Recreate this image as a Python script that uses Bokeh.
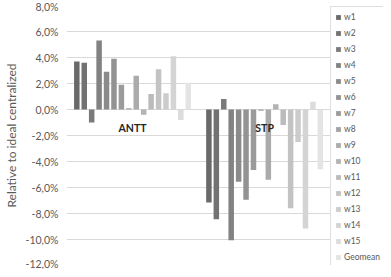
from bokeh.plotting import figure
from bokeh.models import (ColumnDataSource, Range1d, FixedTicker,
                          CustomJSTickFormatter, Legend, LegendItem)
from bokeh.transform import dodge
from bokeh.core.properties import value
from bokeh.embed import file_html
from bokeh.resources import INLINE

categories = ["ANTT", "STP"]
series = ["w1", "w2", "w3", "w4", "w5", "w6", "w7", "w8", "w9", "w10",
          "w11", "w12", "w13", "w14", "w15", "Geomean"]
antt = [3.7, 3.6, -1.0, 5.3, 2.9, 3.9, 1.9, 0.1, 2.6, -0.4, 1.2, 3.1, 1.25, 4.1, -0.8, 2.05]
stp = [-7.15, -8.45, 0.8, -10.05, -5.55, -6.95, -4.65, -0.1, -5.4, 0.4, -1.2, -7.6, -2.5, -9.15, 0.6, -4.6]
y_ticks = [-12, -10, -8, -6, -4, -2, 0, 2, 4, 6, 8]

n = len(series)
greys = []
for i in range(n):
    g = int(round(106 + i * (228 - 106) / (n - 1)))
    greys.append("#%02x%02x%02x" % (g, g, g))

FONT = "Lato"
TXT = "#595959"

cat_x = [i + 0.5 for i in range(len(categories))]

p = figure(width=383, height=269,
           x_range=Range1d(0, 2.4),
           y_range=Range1d(-12, 8),
           output_backend="svg", toolbar_location=None,
           x_axis_location=None,
           min_border_left=58, min_border_top=5, min_border_bottom=4,
           min_border_right=0)
p.outline_line_color = None
p.background_fill_color = "white"
p.border_fill_color = "white"

p.yaxis.ticker = FixedTicker(ticks=y_ticks)
p.yaxis.formatter = CustomJSTickFormatter(code="return tick.toFixed(1).replace('.', ',') + '%';")
p.yaxis.axis_line_color = None
p.yaxis.major_tick_line_color = None
p.yaxis.minor_tick_line_color = None
p.yaxis.major_tick_out = 0
p.yaxis.major_tick_in = 0
p.yaxis.major_label_standoff = 8
p.yaxis.major_label_text_font = FONT
p.yaxis.major_label_text_font_size = "10.5px"
p.yaxis.major_label_text_color = TXT
p.yaxis.axis_label = "Relative to ideal centralized"
p.yaxis.axis_label_text_font = FONT
p.yaxis.axis_label_text_font_size = "12px"
p.yaxis.axis_label_text_font_style = "normal"
p.yaxis.axis_label_text_color = TXT
p.yaxis.axis_label_standoff = 4

p.ygrid.grid_line_color = "#d9d9d9"
p.ygrid.grid_line_width = 1
p.xgrid.grid_line_color = None

src = ColumnDataSource(dict(cat=cat_x,
                            **{s: [antt[i], stp[i]] for i, s in enumerate(series)}))

slot = 0.9 / n
items = []
for i, s in enumerate(series):
    off = -0.45 + slot * (i + 0.5)
    r = p.vbar(x=dodge("cat", off), top=s, bottom=0,
               width=slot * 0.74, source=src, fill_color=greys[i], line_color=None)
    items.append(LegendItem(label=s, renderers=[r]))

p.text(x=cat_x, y=[0, 0], text=categories, y_offset=12,
       text_align="center", text_baseline="top",
       text_font=value(FONT), text_font_style="bold", text_font_size="10.5px",
       text_color="#262626")

legend = Legend(items=items, location=(264, -3), margin=0, padding=4,
                spacing=4, glyph_width=6, glyph_height=6, label_height=12,
                label_standoff=3, label_text_font=FONT,
                label_text_font_size="8.5px", label_text_color=TXT,
                border_line_color="#bfbfbf", border_line_width=1,
                background_fill_color="white", background_fill_alpha=1,
                label_width=40)
p.add_layout(legend, "center")

open("out.html", "w").write(file_html(p, INLINE))
